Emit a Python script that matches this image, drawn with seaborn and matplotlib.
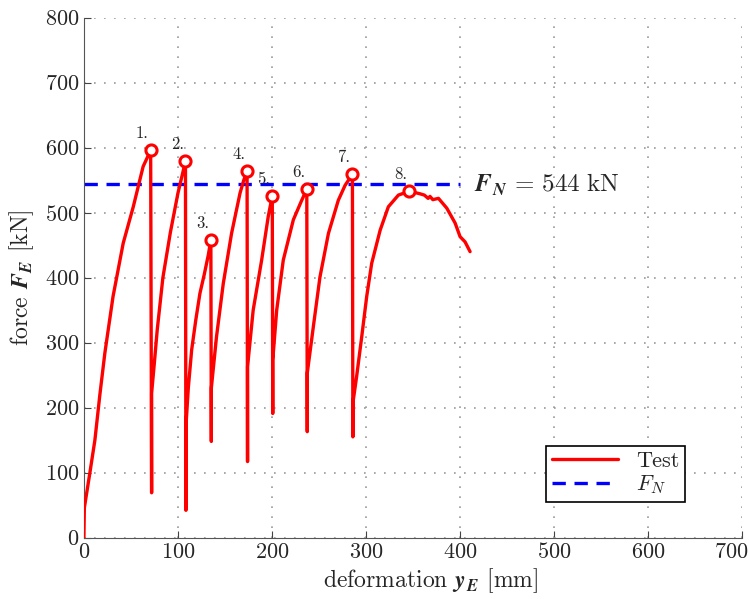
import numpy as np
import pandas as pd
import matplotlib.pyplot as plt
import matplotlib.transforms as mtransforms
import seaborn as sns

# test curve (deformation mm, force kN)
deformation = [0, 0.5, 6.4, 11.7, 17, 22.3, 31, 41.8, 52.5, 63, 71,
               72, 72, 75, 78, 84, 92, 100, 108,
               108.5, 108.5, 111, 114.6, 119, 123.4, 128, 132.3, 135,
               135.5, 135.5, 141, 148.2, 157, 166, 170, 173.5,
               174, 174, 180, 189, 196, 200.3,
               200.8, 200.8, 205, 212, 222.7, 231.6, 237,
               237.5, 237.5, 244, 251, 260, 270.5, 277.7, 285.5,
               286, 286, 290, 295.4, 300.7, 306, 315, 323.7, 334.4, 346,
               357.4, 362, 366, 368, 371, 377, 385.8, 394.7, 400, 405.3, 410.6]
force = [0, 46, 100, 150, 220, 284, 371, 453, 509, 571, 596,
         69, 222, 270, 320, 400, 470, 530, 579,
         42, 171, 230, 289, 335, 376, 405, 435, 458,
         148, 230, 309, 391, 468, 530, 550, 564,
         117, 263, 350, 427, 494, 526,
         191, 273, 350, 427, 489, 519, 536,
         163, 253, 325, 401, 468, 519, 542, 559,
         155, 207, 248, 309, 371, 422, 473, 509, 527, 533,
         529, 527, 522, 525, 520, 522, 507, 484, 463, 455, 440]

peak_x = [71, 108, 135, 173.5, 200.3, 237, 285.5, 346]
peak_y = [596, 579, 458, 564, 526, 536, 559, 533]
peak_labels = ['1.', '2.', '3.', '4.', '5.', '6.', '7.', '8.']

F_N = 544
fn_x = [0, 400]

df = pd.DataFrame({'y': deformation, 'F': force})

sns.set_style('ticks')
plt.rcParams['font.family'] = 'serif'
plt.rcParams['font.serif'] = ['cmr10']
plt.rcParams['mathtext.fontset'] = 'cm'
plt.rcParams['axes.formatter.use_mathtext'] = True

fig = plt.figure(figsize=(7.49, 5.99), dpi=100)
ax = fig.add_axes([0.112, 0.1025, 0.879, 0.868])

sns.lineplot(data=df, x='y', y='F', sort=False, estimator=None, color='red',
             linewidth=2.4, ax=ax, label='Test', zorder=3)
ax.plot(fn_x, [F_N, F_N], color='blue', linestyle=(0, (4, 2.6)), linewidth=2.4,
        label=r'$F_N$', zorder=2)
ax.plot(peak_x, peak_y, linestyle='none', marker='o', markersize=8,
        markerfacecolor='white', markeredgecolor='red', markeredgewidth=2.2, zorder=4)

for px, py, lab in zip(peak_x, peak_y, peak_labels):
    ax.annotate(lab, (px, py), xytext=(-6, 12), textcoords='offset points',
                ha='center', va='center', fontsize=12)

ax.text(415, 543, r'$\mathbfit{F}_{\mathbfit{N}}\,=\,544\ \mathrm{kN}$', fontsize=18,
        va='center', ha='left')

ax.set_xlim(0, 700)
ax.set_ylim(0, 800)
ax.set_xticks(range(0, 701, 100))
ax.set_yticks(range(0, 801, 100))
ax.grid(True, linestyle=(0, (1, 5)), color='#999999', linewidth=1.2)
ax.tick_params(direction='in', length=5, labelsize=16, color='#444444')
for s in ['top', 'right']:
    ax.spines[s].set_visible(False)
for s in ['left', 'bottom']:
    ax.spines[s].set_color('#555555')

# last x tick label sits inside the figure edge
last = ax.get_xticklabels()[-1]
last.set_transform(last.get_transform() + mtransforms.ScaledTranslation(-11 / 100, 0, fig.dpi_scale_trans))

ax.set_xlabel(r'deformation $\mathbfit{y}_{\mathbfit{E}}$ [mm]', fontsize=17)
ax.xaxis.set_label_coords(0.526, -0.056)
ax.set_ylabel(r'force $\mathbfit{F}_{\mathbfit{E}}$ [kN]', fontsize=17, labelpad=6)

leg = ax.legend(loc='lower right', bbox_to_anchor=(0.913, 0.069), fontsize=16,
                fancybox=False, edgecolor='black', framealpha=1, handlelength=3.0,
                borderpad=0.25, labelspacing=0.12, borderaxespad=0)
leg.get_frame().set_linewidth(1.2)

fig.savefig('out.png', dpi=100)
